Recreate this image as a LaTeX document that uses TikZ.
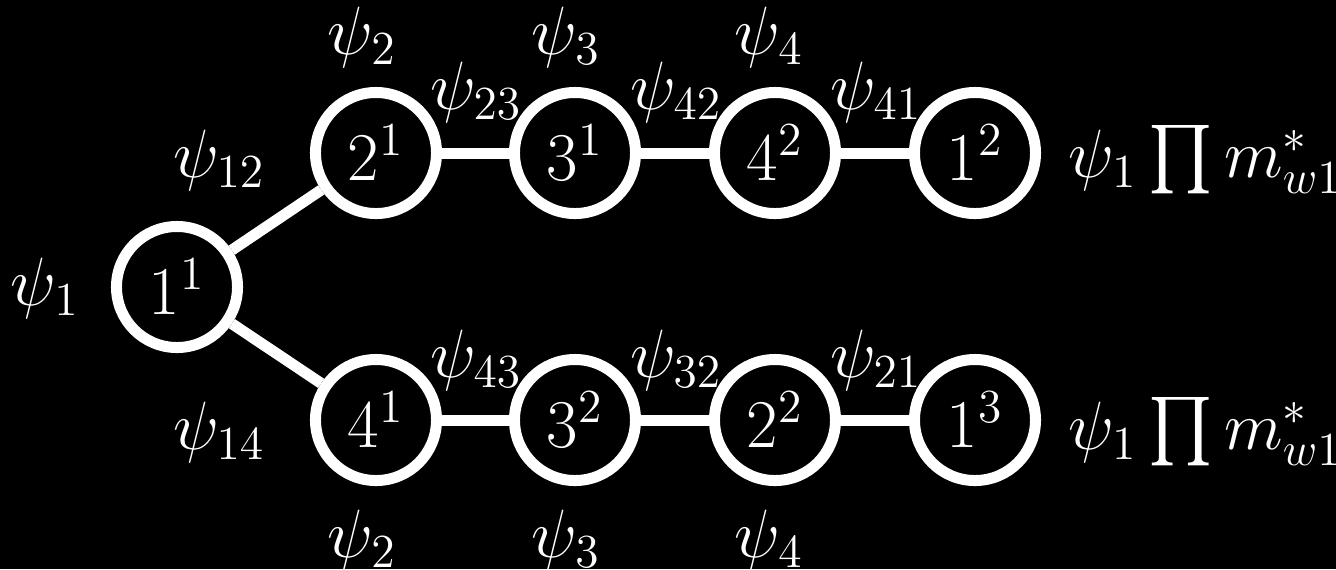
\documentclass[tikz,border=0pt]{standalone}
\usepackage{amsmath}
\tikzset{
  vertex/.style={circle, draw=white, line width=3.34pt, minimum size=1.291cm, inner sep=0pt, text=white},
  wlabel/.style={text=white, inner sep=0pt},
  link/.style={draw=white, line width=3.34pt},
}

\begin{document}
\begin{tikzpicture}[x=0.01067cm, y=-0.01067cm, font=\huge]
    \fill[black] (0,0) rectangle (1336,569);
    \useasboundingbox (0,0) rectangle (1336,569);
    % Root
    \node[vertex] (r) at (177,287) {$1^1$};
    \node[wlabel] (pr) at (45,288) {$\psi_1$};
    % Upper chain
    \node[vertex] (u1) at (376,153) {$2^1$};
    \node[vertex] (u2) at (575,153) {$3^1$};
    \node[vertex] (u3) at (775,153) {$4^2$};
    \node[vertex] (u4) at (975,153) {$1^2$};
    % Lower chain
    \node[vertex] (d1) at (376,420) {$4^1$};
    \node[vertex] (d2) at (575,420) {$3^2$};
    \node[vertex] (d3) at (775,420) {$2^2$};
    \node[vertex] (d4) at (975,420) {$1^3$};
    % Edges
    \draw[link] (r) -- (u1); \draw[link] (u1) -- (u2); \draw[link] (u2) -- (u3); \draw[link] (u3) -- (u4);
    \draw[link] (r) -- (d1); \draw[link] (d1) -- (d2); \draw[link] (d2) -- (d3); \draw[link] (d3) -- (d4);
    % Edge weights
    \node[wlabel] (e12) at (219,160) {$\psi_{12}$};
    \node[wlabel] (e23) at (476,92) {$\psi_{23}$};
    \node[wlabel] (e42) at (676,92) {$\psi_{42}$};
    \node[wlabel] (e41) at (876,92) {$\psi_{41}$};
    \node[wlabel] (e14) at (219,432) {$\psi_{14}$};
    \node[wlabel] (e43) at (476,360) {$\psi_{43}$};
    \node[wlabel] (e32) at (676,360) {$\psi_{32}$};
    \node[wlabel] (e21) at (876,360) {$\psi_{21}$};
    % Vertex weights
    \node[wlabel] (pu1) at (362,37) {$\psi_2$};
    \node[wlabel] (pu2) at (566,37) {$\psi_3$};
    \node[wlabel] (pu3) at (769,37) {$\psi_4$};
    \node[wlabel] (pd1) at (362,540) {$\psi_2$};
    \node[wlabel] (pd2) at (566,540) {$\psi_3$};
    \node[wlabel] (pd3) at (769,540) {$\psi_4$};
    % Products
    \node[wlabel, anchor=west] (qu) at (1068,160) {$\psi_1 \prod m^*_{w1}$};
    \node[wlabel, anchor=west] (qd) at (1068,432) {$\psi_1 \prod m^*_{w1}$};
\end{tikzpicture}
\end{document}
